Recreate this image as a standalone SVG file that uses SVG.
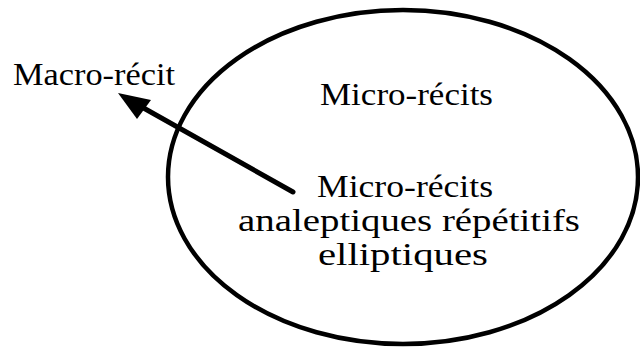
<svg xmlns="http://www.w3.org/2000/svg" width="640" height="348" viewBox="0 0 640 348">
<style>
.t{font-family:"Liberation Serif","Times New Roman",serif;font-size:31px;fill:#000}
</style>
<rect width="640" height="348" fill="#fff"/>
<g id="ellipse-node">
<ellipse cx="403" cy="177" rx="235" ry="167" fill="none" stroke="#000" stroke-width="4.5"/>
<text class="t" x="320" y="105" textLength="173" lengthAdjust="spacingAndGlyphs">Micro-récits</text>
</g>
<g id="inner-node">
<text class="t" x="317" y="197" textLength="176" lengthAdjust="spacingAndGlyphs">Micro-récits</text>
<text class="t" x="238" y="231" textLength="342" lengthAdjust="spacingAndGlyphs">analeptiques  répétitifs</text>
<text class="t" x="318" y="265" textLength="170" lengthAdjust="spacingAndGlyphs">elliptiques</text>
</g>
<g id="macro-node">
<text class="t" x="13" y="85" textLength="162" lengthAdjust="spacingAndGlyphs">Macro-récit</text>
</g>
<g id="connectors">
<line x1="293" y1="192" x2="140" y2="106" stroke="#000" stroke-width="5" stroke-linecap="round"/>
<polygon points="118,93 151,100 137,119" fill="#000"/>
</g>
</svg>
